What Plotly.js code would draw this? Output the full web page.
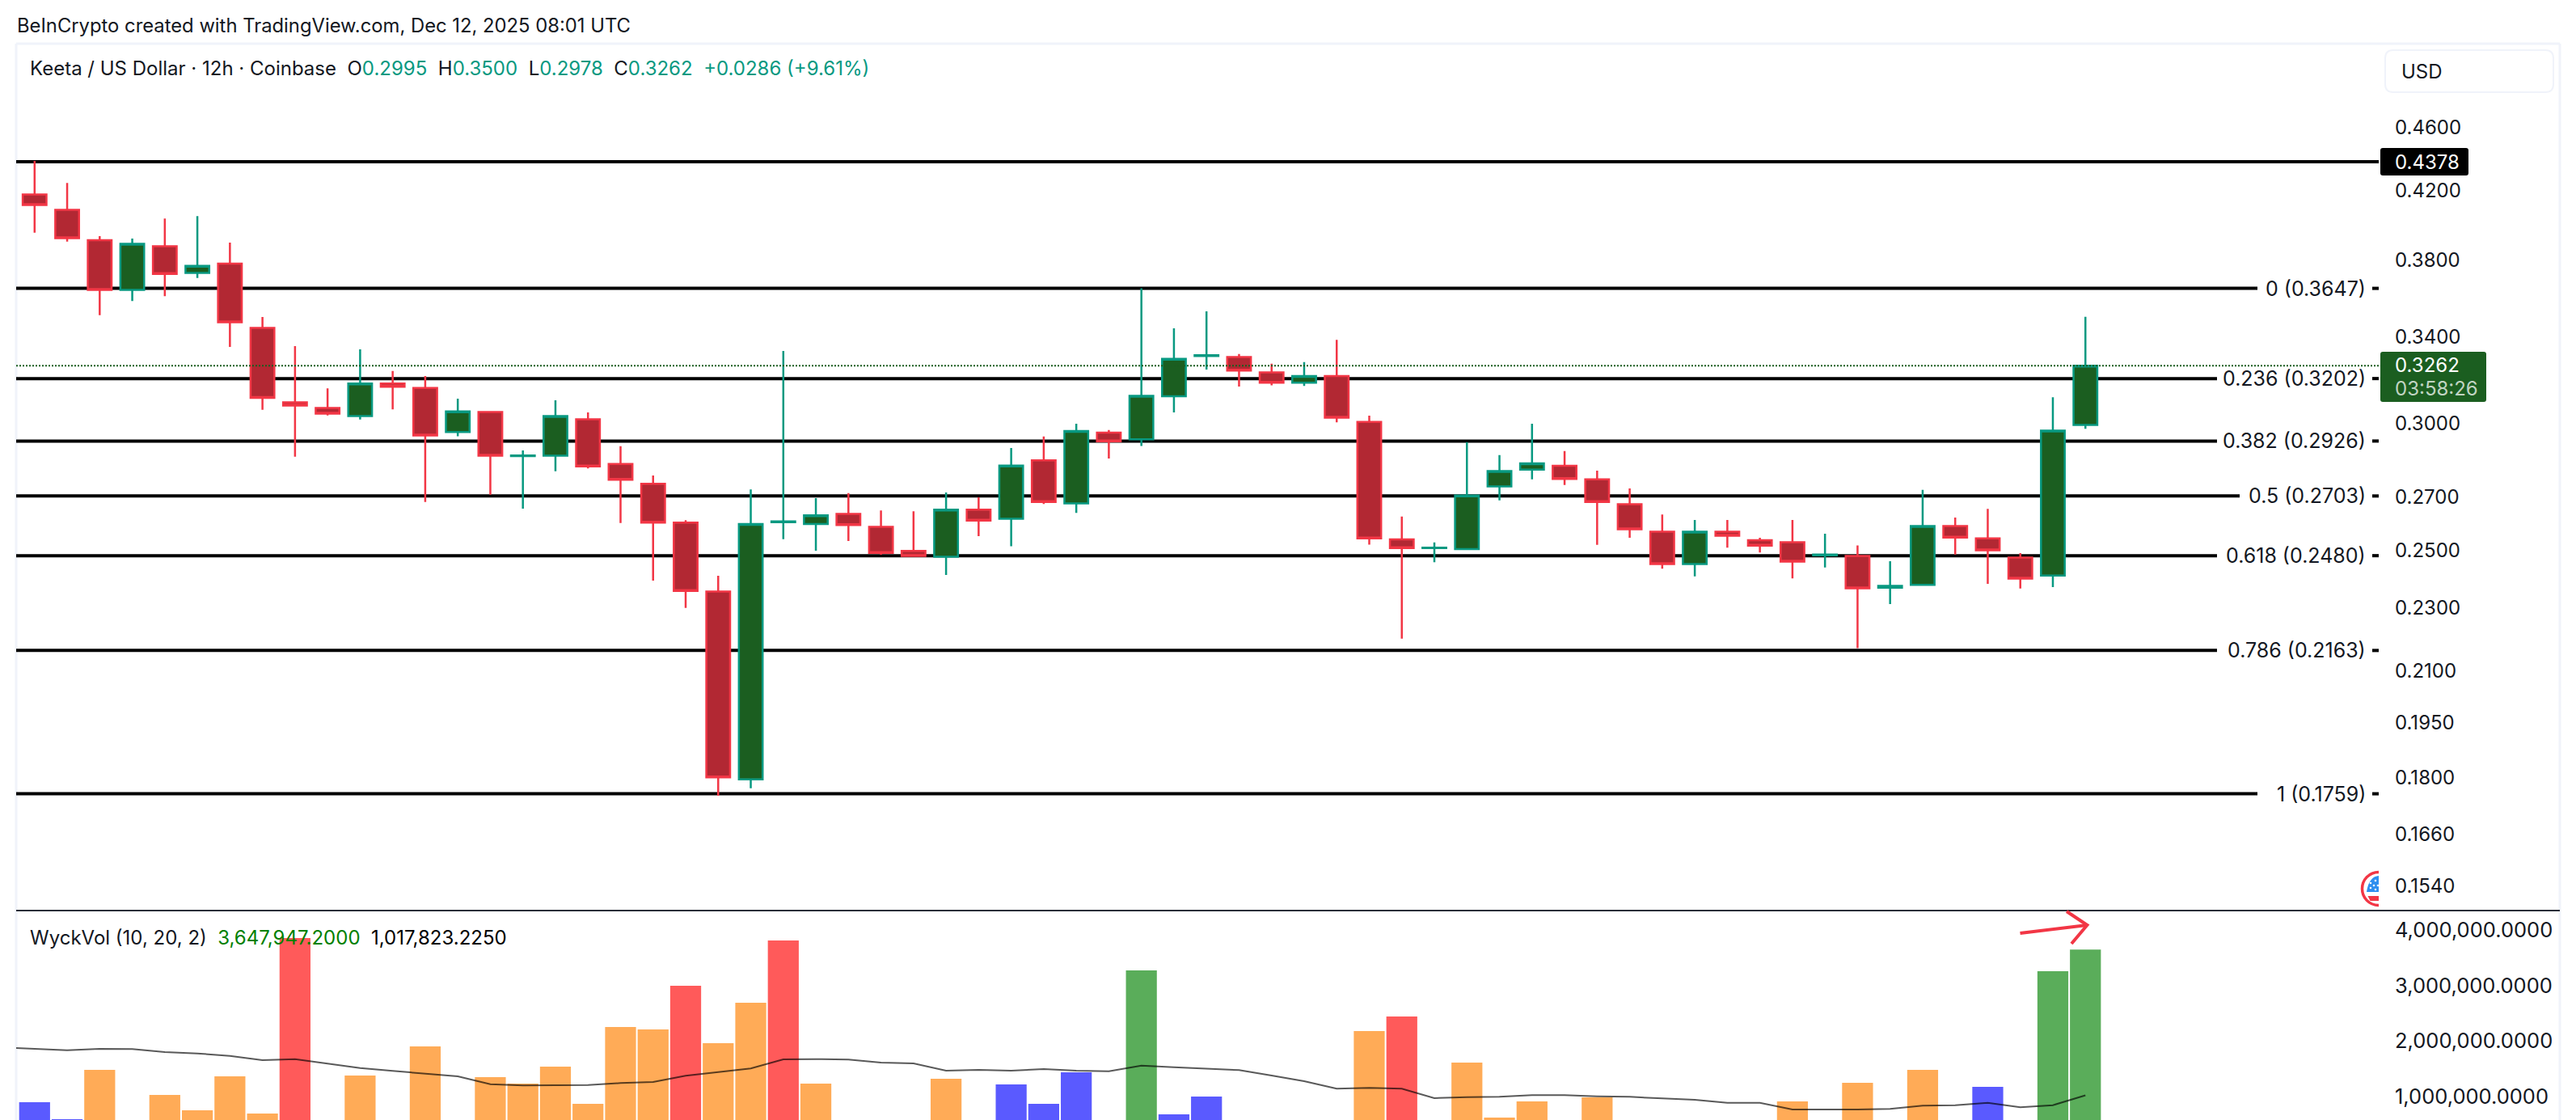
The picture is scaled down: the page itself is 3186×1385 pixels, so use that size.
<!DOCTYPE html>
<html><head><meta charset="utf-8">
<script src="https://cdn.plot.ly/plotly-3.0.1.min.js"></script>
<style>html,body{margin:0;padding:0;background:#fff}</style></head>
<body><div id="chart" style="width:3186px;height:1385px"></div>
<script>
const OPEN=[.4176,.4084,.3910,.3639,.3876,.3729,.3780,.3445,.3094,.3069,.3033,.3179,.3159,.2964,.3051,.2863,.2865,.3019,.2831,.2751,.2601,.2355,.1796,.2603,.2596,.2634,.2585,.2497,.2476,.2650,.2616,.2846,.2674,.2962,.2933,.3121,.3308,.3303,.3231,.3183,.3214,.3008,.2539,.2507,.2504,.2741,.2808,.2823,.2769,.2671,.2567,.2450,.2567,.2536,.2529,.2481,.2479,.2368,.2378,.2588,.2543,.2473,.2410,.2995];
const HIGH=[.4383,.4246,.3932,.3919,.4034,.4048,.3896,.3499,.3355,.3157,.3340,.3237,.3214,.3110,.3054,.2887,.3103,.3049,.2904,.2784,.2610,.2409,.2729,.3332,.2695,.2714,.2647,.2644,.2717,.2698,.2897,.2945,.3000,.2973,.3647,.3443,.3528,.3318,.3271,.3279,.3386,.3035,.2624,.2528,.2921,.2867,.3000,.2884,.2804,.2733,.2632,.2611,.2611,.2545,.2611,.2560,.2517,.2460,.2727,.2620,.2653,.2489,.3117,.3500];
const LOW=[.3952,.3902,.3509,.3581,.3606,.3702,.3352,.3061,.2861,.3036,.3018,.3063,.2680,.2946,.2708,.2654,.2801,.2813,.2600,.2392,.2300,.1754,.1773,.2540,.2498,.2533,.2483,.2477,.2412,.2551,.2514,.2672,.2638,.2853,.2905,.3049,.3244,.3165,.3171,.3168,.3006,.2520,.2200,.2457,.2500,.2686,.2769,.2746,.2519,.2545,.2434,.2407,.2509,.2491,.2400,.2438,.2170,.2313,.2375,.2484,.2381,.2365,.2370,.2978];
const CLOSE=[.4113,.3921,.3639,.3889,.3724,.3767,.3473,.3114,.3080,.3044,.3179,.3164,.2950,.3054,.2865,.2866,.3033,.2821,.2767,.2601,.2357,.1801,.2596,.2606,.2629,.2592,.2490,.2479,.2650,.2609,.2824,.2680,.2969,.2925,.3123,.3294,.3312,.3239,.3183,.3214,.3026,.2543,.2507,.2509,.2705,.2802,.2833,.2770,.2680,.2576,.2450,.2567,.2552,.2516,.2459,.2484,.2366,.2374,.2588,.2546,.2499,.2399,.2970,.3262];
const VOLUME=[.894,.588,1.477,.5,1.025,.748,1.361,.691,3.854,.5,1.375,.5,1.900,.5,1.346,1.229,1.536,.865,2.250,2.206,2.994,1.959,2.688,3.810,1.229,.5,.5,.5,1.317,.5,1.215,.865,1.434,.5,3.271,.675,.996,.5,.5,.5,.5,2.177,2.440,.5,1.609,.617,.909,.5,.982,.5,.5,.5,.5,.5,.909,.5,1.244,.5,1.477,.5,1.171,.5,3.258,3.648];
const VOL_CLASS=["b","b","o","o","o","o","o","o","r","o","o","o","o","o","o","o","o","o","o","o","r","o","o","r","o","o","o","o","o","o","b","b","b","o","g","b","b","o","o","o","o","o","r","o","o","o","o","o","o","o","o","o","o","o","o","o","o","o","o","o","b","o","g","g"];
const VOL_COLORS={o:"#FFAB57",r:"#FF5A5A",b:"#5A5AFF",g:"#5AAD5A"};
const MA_X=[-1,0,1,2,3,4,5,6,7,8,9,10,11,12,13,14,15,16,17,18,19,20,21,22,23,24,25,26,27,28,29,30,31,32,33,34,35,36,37,38,39,40,41,42,43,44,45,46,47,48,49,50,51,52,53,54,55,56,57,58,59,60,61,62,63];
const MA=[1.88,1.852,1.832,1.856,1.852,1.798,1.774,1.730,1.652,1.672,1.594,1.511,1.458,1.414,1.361,1.220,1.195,1.200,1.205,1.239,1.259,1.370,1.438,1.502,1.667,1.672,1.662,1.609,1.594,1.463,1.477,1.463,1.492,1.463,1.453,1.555,1.526,1.502,1.472,1.375,1.273,1.137,1.152,1.137,.967,.986,.991,1.020,1.020,1.001,.991,.962,.938,.884,.884,.763,.758,.763,.773,.831,.840,.884,.802,.840,1.018];
const FIB_RATIO=["0","0.236","0.382","0.5","0.618","0.786","1"];
const FIB_PRICE=[0.3647,0.3202,0.2926,0.2703,0.2480,0.2163,0.1759];
const FIB_LINE_END=[2792,2742,2742,2770,2742,2742,2792];
const TOP_LEVEL=0.4378, LAST=0.3262;
const PRICE_TICKS=[0.46,0.42,0.38,0.34,0.30,0.27,0.25,0.23,0.21,0.195,0.18,0.166,0.154];
const VOL_TICKS=[1,2,3,4];

const W=3186,H=1385;
const px=v=>v/W, py=v=>1-v/H;
const FONT='Inter, "Noto Sans", sans-serif';
const INK="#131722";
const n=OPEN.length, X=OPEN.map((_,i)=>i);
const xr=[-0.566,72.01];

function pathP(pts,close){return pts.map((p,i)=>(i?"L":"M")+px(p[0]).toFixed(6)+","+py(p[1]).toFixed(6)).join(" ")+(close?" Z":"");}
function rrect(x0,y0,x1,y1,r){
  const a=v=>px(v).toFixed(6),b=v=>py(v).toFixed(6);
  return `M${a(x0+r)},${b(y0)} L${a(x1-r)},${b(y0)} Q${a(x1)},${b(y0)} ${a(x1)},${b(y0+r)} L${a(x1)},${b(y1-r)} Q${a(x1)},${b(y1)} ${a(x1-r)},${b(y1)} L${a(x0+r)},${b(y1)} Q${a(x0)},${b(y1)} ${a(x0)},${b(y1-r)} L${a(x0)},${b(y0+r)} Q${a(x0)},${b(y0)} ${a(x0+r)},${b(y0)} Z`;
}
function curve(cmds){return cmds.map(c=>c[0]+c.slice(1).map(p=>px(p[0]).toFixed(6)+","+py(p[1]).toFixed(6)).join(" ")).join(" ");}
const shapes=[];
const frame={color:"#F0F3FA",width:3};
shapes.push({type:"line",xref:"paper",yref:"paper",x0:px(20),x1:px(3166),y0:py(54),y1:py(54),line:frame,layer:"below"});
shapes.push({type:"line",xref:"paper",yref:"paper",x0:px(20),x1:px(20),y0:py(54),y1:0,line:frame,layer:"below"});
shapes.push({type:"line",xref:"paper",yref:"paper",x0:px(3166),x1:px(3166),y0:py(54),y1:0,line:frame,layer:"below"});
const fibLine={color:"#000",width:4};
shapes.push({type:"line",xref:"paper",yref:"y",x0:px(20),x1:px(2942),y0:TOP_LEVEL,y1:TOP_LEVEL,line:fibLine,layer:"below"});
FIB_PRICE.forEach((p,i)=>{
  shapes.push({type:"line",xref:"paper",yref:"y",x0:px(20),x1:px(FIB_LINE_END[i]),y0:p,y1:p,line:fibLine,layer:"below"});
  shapes.push({type:"line",xref:"paper",yref:"y",x0:px(2934),x1:px(2942),y0:p,y1:p,line:fibLine,layer:"below"});
});
shapes.push({type:"line",xref:"paper",yref:"y",x0:px(20),x1:px(2942),y0:LAST,y1:LAST,line:{color:"#1B5E20",width:2,dash:"2px,2px"},layer:"above"});
shapes.push({type:"line",xref:"paper",yref:"paper",x0:px(20),x1:px(3166),y0:py(1126),y1:py(1126),line:{color:"#2A2E39",width:2}});
shapes.push({type:"path",xref:"paper",yref:"paper",path:rrect(2950,62,3158,114,10),line:{color:"#F0F3FA",width:2},fillcolor:"#fff"});
shapes.push({type:"path",xref:"paper",yref:"paper",path:rrect(2944,183,3053,217,3),line:{width:0},fillcolor:"#000"});
shapes.push({type:"path",xref:"paper",yref:"paper",path:rrect(2944,435,3075,497,3),line:{width:0},fillcolor:"#1B5E20"});
const arrow={color:"#F23645",width:4};
shapes.push({type:"path",xref:"paper",yref:"paper",path:pathP([[2498.5,1154],[2581.4,1144]]),line:arrow});
shapes.push({type:"path",xref:"paper",yref:"paper",path:pathP([[2556,1127],[2581.4,1144],[2562,1167]]),line:arrow});
// flag icon, clipped at the pane edge
shapes.push({type:"path",xref:"paper",yref:"paper",path:curve([["M",[2942,1078.5]],["C",[2930,1078.5],[2921.5,1088],[2921.5,1099]],["C",[2921.5,1110],[2930,1119.5],[2942,1119.5]]]),line:{color:"#F23645",width:3.5},fillcolor:"#fff"});
shapes.push({type:"path",xref:"paper",yref:"paper",path:curve([["M",[2942,1083]],["C",[2935,1083.5],[2929,1089],[2927,1103]],["L",[2942,1103]],["Z"]]),line:{width:0},fillcolor:"#2E8FEF"});
shapes.push({type:"path",xref:"paper",yref:"paper",path:pathP([[2928.5,1108],[2942,1108],[2942,1114],[2931.5,1114]],true),line:{width:0},fillcolor:"#F23645"});
[[2932,1092],[2938,1089],[2936,1095],[2941,1095],[2932,1098],[2938,1100]].forEach(c=>{
  shapes.push({type:"circle",xref:"paper",yref:"paper",x0:px(c[0]-1.3),x1:px(c[0]+1.3),y0:py(c[1]+1.3),y1:py(c[1]-1.3),line:{width:0},fillcolor:"#fff"});
});

const annotations=[];
function note(x,y,text,o){annotations.push(Object.assign({xref:"paper",yref:"paper",x:px(x),y:py(y),text,showarrow:false,xanchor:"left",yanchor:"middle",font:{family:FONT,size:24,color:INK},borderpad:0},o||{}));}
note(20,32,"BeInCrypto created with TradingView.com, Dec 12, 2025 08:01 UTC",{font:{family:FONT,size:23.8,color:INK}});
const G=s=>`<span style="color:#089981">${s}</span>`;
note(36,85,`Keeta / US Dollar · 12h · Coinbase\u00A0\u00A0O${G(OPEN[n-1].toFixed(4))}\u00A0\u00A0H${G(HIGH[n-1].toFixed(4))}\u00A0\u00A0L${G(LOW[n-1].toFixed(4))}\u00A0\u00A0C${G(CLOSE[n-1].toFixed(4))}\u00A0\u00A0${G("+0.0286 (+9.61%)")}`);
note(36,1159,`WyckVol (10, 20, 2)\u00A0\u00A0<span style="color:#008000">3,647,947.2000</span>\u00A0\u00A0<span style="color:#000">1,017,823.2250</span>`);
note(2969,88,"USD");
note(2961,200,TOP_LEVEL.toFixed(4),{font:{family:FONT,size:24,color:"#fff"}});
note(2961,452,LAST.toFixed(4),{font:{family:FONT,size:24,color:"#fff"}});
note(2961,480,"03:58:26",{font:{family:FONT,size:24,color:"#C0D4C2"}});
FIB_PRICE.forEach((p,i)=>{
  annotations.push({xref:"paper",yref:"y",x:px(2928),y:Math.log10(p),text:`${FIB_RATIO[i]} (${p.toFixed(4)})`,showarrow:false,xanchor:"right",yanchor:"middle",font:{family:FONT,size:25,color:INK}});
});

const traces=[
 {type:"candlestick",x:X,open:OPEN,high:HIGH,low:LOW,close:CLOSE,xaxis:"x",yaxis:"y",
  increasing:{line:{color:"#089981",width:2.5},fillcolor:"#1B5E20"},
  decreasing:{line:{color:"#F23645",width:2.5},fillcolor:"#B22833"},whiskerwidth:0,hoverinfo:"skip"},
 {type:"bar",x:X,y:VOLUME.map(v=>v*1e6),xaxis:"x",yaxis:"y2",width:0.95,marker:{color:VOL_CLASS.map(c=>VOL_COLORS[c]),line:{width:0}},hoverinfo:"skip"},
 {type:"scatter",mode:"lines",x:MA_X,y:MA.map(v=>v*1e6),xaxis:"x",yaxis:"y2",line:{color:"rgba(0,0,0,0.65)",width:2},hoverinfo:"skip"}
];
const layout={width:W,height:H,margin:{l:0,r:0,t:0,b:0},paper_bgcolor:"#fff",plot_bgcolor:"#fff",showlegend:false,
 font:{family:FONT,color:INK},boxgap:0.27,boxgroupgap:0,boxmode:"overlay",
 xaxis:{domain:[px(20),px(2942)],range:xr,type:"linear",visible:false,rangeslider:{visible:false},fixedrange:true,anchor:"y"},
 yaxis:{domain:[py(1125),py(54)],type:"log",range:[Math.log10(0.1488),Math.log10(0.5191)],side:"right",anchor:"x",showgrid:false,zeroline:false,showline:false,ticks:"",
  tickmode:"array",tickvals:PRICE_TICKS,ticktext:PRICE_TICKS.map(v=>v.toFixed(4)),tickfont:{family:FONT,size:24,color:INK},ticklabelstandoff:19,fixedrange:true},
 yaxis2:{domain:[0,py(1127)],range:[573000,4336000],side:"right",anchor:"x",showgrid:false,zeroline:false,showline:false,ticks:"",
  tickmode:"array",tickvals:VOL_TICKS.map(v=>v*1e6),ticktext:VOL_TICKS.map(v=>(v*1e6).toLocaleString("en-US")+".0000"),tickfont:{family:FONT,size:25.5,color:INK},ticklabelstandoff:19,fixedrange:true},
 shapes,annotations};
Plotly.newPlot("chart",traces,layout,{staticPlot:true,displayModeBar:false,responsive:false});
</script></body></html>
